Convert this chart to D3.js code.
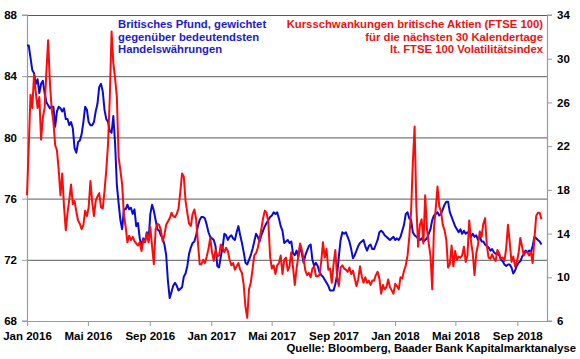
<!DOCTYPE html>
<html><head><meta charset="utf-8">
<script src="https://cdn.jsdelivr.net/npm/d3@7"></script>
<style>
html,body{margin:0;padding:0;background:#fff;}
svg{display:block;font-family:"Liberation Sans",Arial,sans-serif;font-weight:bold;}
</style></head>
<body>
<svg id="chart" width="580" height="359"></svg>
<script>
// ---- data ----
const startDate = "2016-01-01";   // first observation
const stepHours = 84;             // two observations per week
const gbpIndex = [
86.0,86.0,85.2,84.4,84.2,83.5,83.8,82.9,83.5,83.7,
82.9,82.3,82.1,81.9,82.0,82.0,80.7,81.7,82.0,81.9,
81.7,81.9,81.2,81.2,80.8,81.0,80.6,79.3,79.0,79.7,
79.8,80.2,81.0,82.0,81.8,81.0,80.8,80.8,81.0,81.7,
82.2,83.3,83.5,83.0,81.8,81.2,81.0,80.4,80.3,81.4,
79.6,76.9,75.7,74.6,74.0,75.3,75.3,75.6,75.3,75.4,
75.0,75.3,74.2,74.4,73.4,72.9,73.4,73.2,73.8,73.3,
75.0,75.6,75.2,74.6,74.0,73.9,73.6,73.4,73.0,72.3,
70.6,69.5,69.9,70.3,70.5,70.3,70.0,70.1,70.2,70.9,
71.1,71.6,72.4,72.8,73.1,73.2,73.6,74.2,74.6,74.8,
74.8,74.7,74.3,73.8,73.5,73.4,73.3,72.9,71.6,71.5,
72.2,72.8,73.7,73.6,73.3,73.5,73.6,73.4,73.3,73.8,
74.2,73.6,73.1,72.5,71.8,71.7,72.0,72.3,72.7,73.2,
73.7,73.5,73.2,73.6,73.9,74.2,74.4,74.6,74.8,74.9,
75.1,75.0,75.1,74.7,74.2,73.9,73.1,73.2,73.3,73.1,
73.2,72.4,72.3,72.6,72.2,72.9,72.4,71.8,72.3,72.6,
72.9,73.0,72.0,71.6,71.8,71.6,71.2,71.0,70.9,70.7,
70.5,70.3,70.0,70.0,70.0,70.4,71.0,72.2,73.3,73.8,
73.7,73.8,73.5,73.2,72.7,72.1,72.3,72.6,72.9,73.1,
73.2,73.3,72.9,72.6,72.9,73.0,72.7,72.7,73.0,73.3,
73.8,73.9,73.8,73.6,73.5,73.4,73.3,73.4,73.5,73.3,
73.4,73.3,73.5,73.9,74.3,75.0,75.1,74.7,74.6,73.8,
73.6,73.5,73.4,73.3,73.4,73.2,73.3,73.4,73.7,74.0,
74.6,74.9,75.0,75.1,74.9,75.0,75.3,75.6,75.8,75.8,
75.1,74.8,74.5,74.2,74.0,73.8,74.0,73.7,73.9,73.7,
73.8,73.7,73.5,73.7,73.5,73.6,73.3,73.5,73.2,73.2,
73.0,72.9,72.8,72.6,72.7,72.5,72.4,72.4,72.3,72.0,
71.9,71.7,71.6,71.7,71.7,71.5,71.1,71.3,71.6,71.8,
71.9,72.2,72.4,72.6,72.5,72.6,72.5,72.9,73.5,73.4,
73.3,73.2,73.0];
const vftse = [
17.5,22.0,26.7,25.5,28.5,26.9,25.5,26.5,22.6,24.6,
25.5,28.8,31.7,27.8,25.4,24.2,22.1,21.6,19.8,17.5,
19.5,16.5,14.3,15.9,17.1,18.5,16.7,17.0,16.0,15.2,
14.9,14.4,14.8,16.1,15.6,16.4,18.8,16.9,15.6,17.0,
17.4,17.7,16.4,16.3,17.9,19.8,22.2,26.5,32.5,29.6,
28.2,26.5,21.0,19.8,18.5,15.7,14.6,13.2,13.8,13.4,
13.7,13.3,13.1,12.9,13.2,12.4,13.4,13.2,14.0,13.2,
14.6,12.8,11.2,14.4,14.9,14.8,14.3,13.3,13.9,14.8,
15.1,15.4,15.9,15.6,15.5,15.8,16.3,17.8,19.5,19.2,
17.0,15.9,14.9,14.7,15.8,16.2,15.3,13.2,11.2,11.2,
11.6,11.3,11.9,12.6,13.6,12.3,11.5,12.5,11.9,12.0,
13.0,12.7,12.3,12.7,12.4,11.6,11.1,11.3,10.7,11.0,
11.3,10.7,10.4,9.3,7.3,6.3,8.9,9.5,10.7,12.0,
12.2,12.7,13.5,14.4,15.4,16.1,15.9,15.0,11.9,10.8,
11.1,10.3,11.1,11.3,12.0,10.3,11.6,11.8,10.6,11.0,
12.3,10.9,9.3,10.8,11.9,13.1,12.5,11.7,10.6,10.2,
10.4,10.0,10.8,11.0,10.1,10.1,10.2,11.4,13.2,11.8,
12.6,10.7,10.8,9.5,11.2,12.5,10.0,9.2,10.9,11.1,
10.8,10.7,10.5,10.9,10.3,10.6,9.9,9.2,9.8,11.0,
10.1,9.5,10.0,9.5,9.7,9.3,9.7,9.7,10.2,10.5,
9.9,8.5,9.3,8.9,9.1,9.8,9.1,8.8,8.5,9.4,
9.2,8.9,10.0,9.9,10.6,11.1,12.0,13.7,16.0,20.5,
23.8,16.5,12.8,14.8,15.3,13.1,17.5,14.5,13.1,12.0,
8.9,14.5,16.3,18.3,16.5,16.0,14.8,14.3,13.4,10.9,
11.2,12.9,11.0,12.4,11.6,11.9,11.8,12.0,12.8,11.4,
12.0,15.2,13.3,12.2,10.2,12.2,13.0,14.2,13.7,14.9,
15.4,12.9,11.8,11.7,12.1,11.7,11.5,12.5,12.2,11.7,
11.8,11.5,12.7,14.8,13.2,11.4,11.9,11.0,11.4,12.2,
13.6,12.8,12.0,12.3,12.3,12.0,12.3,11.3,13.5,15.6,
15.9,15.9,15.3];
const leftTicks = [68,72,76,80,84,88];
const rightTicks = [6,10,14,18,22,26,30,34];
const xTickDates = ["2016-01-01","2016-05-01","2016-09-01","2017-01-01","2017-05-01","2017-09-01","2018-01-01","2018-05-01","2018-09-01"];
const monthNames = ["Jan","Feb","Mär","Apr","Mai","Jun","Jul","Aug","Sep","Okt","Nov","Dez"];
const blueLabel = ["Britisches Pfund, gewichtet","gegenüber bedeutendsten","Handelswährungen"];
const redLabel = ["Kursschwankungen britische Aktien (FTSE 100)","für die nächsten 30 Kalendertage","lt. FTSE 100 Volatilitätsindex"];
const sourceText = "Quelle: Bloomberg, Baader Bank Kapitalmarktanalyse";

// ---- build ----
const parse = d3.utcParse("%Y-%m-%d");
const t0 = parse(startDate);
const dates = gbpIndex.map((_, i) => d3.utcHour.offset(t0, i * stepHours));
const blueData = gbpIndex.map((v, i) => ({d: dates[i], v}));
const redData = vftse.map((v, i) => ({d: dates[i], v}));

const L = 27, R = 548, T = 15, B = 321;
const svg = d3.select("#chart");
const x = d3.scaleUtc().domain([parse("2016-01-01"), parse("2018-11-01")]).range([L, R]);
const yL = d3.scaleLinear().domain([68, 88]).range([B, T]);
const yR = d3.scaleLinear().domain([6, 34]).range([B, T]);

// gridlines
svg.append("g").selectAll("line").data(leftTicks.filter(t => t > 68)).join("line")
  .attr("x1", L).attr("x2", R).attr("y1", d => yL(d) + 0.5).attr("y2", d => yL(d) + 0.5)
  .attr("stroke", "#5a5a5a").attr("stroke-width", 1);

// axes
const axisColor = "#9a9a9a";
const gL = svg.append("g").attr("transform", `translate(${L},0)`)
  .call(d3.axisLeft(yL).tickValues(leftTicks).tickSize(5).tickPadding(5));
const gR = svg.append("g").attr("transform", `translate(${R},0)`)
  .call(d3.axisRight(yR).tickValues(rightTicks).tickSize(4).tickPadding(5));
const gB = svg.append("g").attr("transform", `translate(0,${B})`)
  .call(d3.axisBottom(x).tickValues(xTickDates.map(parse)).tickSize(5).tickPadding(6)
    .tickFormat(d => monthNames[d.getUTCMonth()] + " " + d.getUTCFullYear()));
[gL, gR, gB].forEach(g => {
  g.selectAll(".domain").attr("stroke", axisColor).attr("stroke-width", 1.2);
  g.selectAll(".tick line").attr("stroke", axisColor);
  g.selectAll("text").attr("fill", "#000").style("font-size", "11.5px")
    .style("font-family", '"Liberation Sans",Arial,sans-serif').style("font-weight", "bold");
});
gL.select(".domain").attr("d", `M-5,${B}H0.5V${T}H-5`);
gR.select(".domain").attr("d", `M4,${B}H-0.5V${T}H4`);
gB.select(".domain").attr("d", `M${L},0.5H${R}`);
gB.selectAll("text").attr("dy", "0.72em");

// lines
const lineB = d3.line().x(d => x(d.d)).y(d => yL(d.v));
const lineR = d3.line().x(d => x(d.d)).y(d => yR(d.v));
svg.append("path").datum(blueData).attr("d", lineB).attr("fill", "none")
  .attr("stroke", "#0a0ad8").attr("stroke-width", 2).attr("stroke-linejoin", "round");
svg.append("path").datum(redData).attr("d", lineR).attr("fill", "none")
  .attr("stroke", "#ff0a0a").attr("stroke-width", 2).attr("stroke-linejoin", "round");

// labels
const bl = svg.append("g").attr("fill", "#1c1ccc").style("font-size", "11.3px");
bl.selectAll("text").data(blueLabel).join("text")
  .attr("x", 118).attr("y", (d, i) => 28 + i * 12.6).text(d => d);
const rl = svg.append("g").attr("fill", "#ee1111").style("font-size", "11.3px").attr("text-anchor", "end");
rl.selectAll("text").data(redLabel).join("text")
  .attr("x", 543).attr("y", (d, i) => 28 + i * 12.6).text(d => d);
svg.append("text").attr("x", 576).attr("y", 352).attr("text-anchor", "end")
  .style("font-size", "11.3px").attr("fill", "#000").text(sourceText);
</script>
</body></html>
